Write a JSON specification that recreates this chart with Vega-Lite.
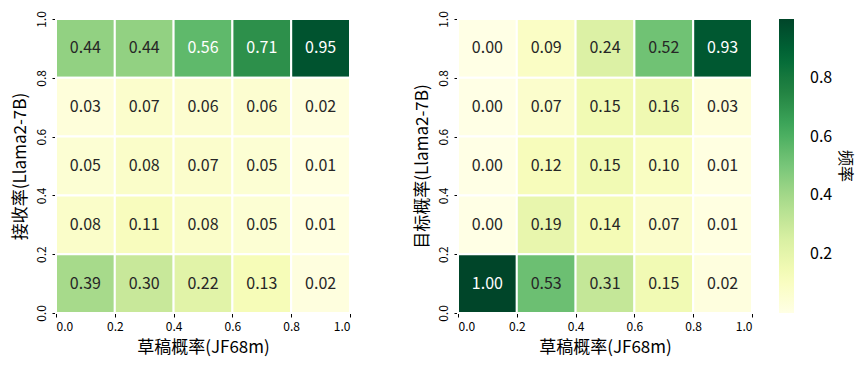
{
  "$schema": "https://vega.github.io/schema/vega-lite/v6.json",
  "autosize": {"type": "pad"},
  "padding": {"left": 10, "top": 10, "right": 5, "bottom": 5},
  "background": "white",
  "data": {"values": [
    {"p":"L","x0":0.0,"x1":0.2,"y0":0.8,"y1":1.0,"v":0.44},
    {"p":"L","x0":0.2,"x1":0.4,"y0":0.8,"y1":1.0,"v":0.44},
    {"p":"L","x0":0.4,"x1":0.6,"y0":0.8,"y1":1.0,"v":0.56},
    {"p":"L","x0":0.6,"x1":0.8,"y0":0.8,"y1":1.0,"v":0.71},
    {"p":"L","x0":0.8,"x1":1.0,"y0":0.8,"y1":1.0,"v":0.95},
    {"p":"L","x0":0.0,"x1":0.2,"y0":0.6,"y1":0.8,"v":0.03},
    {"p":"L","x0":0.2,"x1":0.4,"y0":0.6,"y1":0.8,"v":0.07},
    {"p":"L","x0":0.4,"x1":0.6,"y0":0.6,"y1":0.8,"v":0.06},
    {"p":"L","x0":0.6,"x1":0.8,"y0":0.6,"y1":0.8,"v":0.06},
    {"p":"L","x0":0.8,"x1":1.0,"y0":0.6,"y1":0.8,"v":0.02},
    {"p":"L","x0":0.0,"x1":0.2,"y0":0.4,"y1":0.6,"v":0.05},
    {"p":"L","x0":0.2,"x1":0.4,"y0":0.4,"y1":0.6,"v":0.08},
    {"p":"L","x0":0.4,"x1":0.6,"y0":0.4,"y1":0.6,"v":0.07},
    {"p":"L","x0":0.6,"x1":0.8,"y0":0.4,"y1":0.6,"v":0.05},
    {"p":"L","x0":0.8,"x1":1.0,"y0":0.4,"y1":0.6,"v":0.01},
    {"p":"L","x0":0.0,"x1":0.2,"y0":0.2,"y1":0.4,"v":0.08},
    {"p":"L","x0":0.2,"x1":0.4,"y0":0.2,"y1":0.4,"v":0.11},
    {"p":"L","x0":0.4,"x1":0.6,"y0":0.2,"y1":0.4,"v":0.08},
    {"p":"L","x0":0.6,"x1":0.8,"y0":0.2,"y1":0.4,"v":0.05},
    {"p":"L","x0":0.8,"x1":1.0,"y0":0.2,"y1":0.4,"v":0.01},
    {"p":"L","x0":0.0,"x1":0.2,"y0":0.0,"y1":0.2,"v":0.39},
    {"p":"L","x0":0.2,"x1":0.4,"y0":0.0,"y1":0.2,"v":0.30},
    {"p":"L","x0":0.4,"x1":0.6,"y0":0.0,"y1":0.2,"v":0.22},
    {"p":"L","x0":0.6,"x1":0.8,"y0":0.0,"y1":0.2,"v":0.13},
    {"p":"L","x0":0.8,"x1":1.0,"y0":0.0,"y1":0.2,"v":0.02},
    {"p":"R","x0":0.0,"x1":0.2,"y0":0.8,"y1":1.0,"v":0.00},
    {"p":"R","x0":0.2,"x1":0.4,"y0":0.8,"y1":1.0,"v":0.09},
    {"p":"R","x0":0.4,"x1":0.6,"y0":0.8,"y1":1.0,"v":0.24},
    {"p":"R","x0":0.6,"x1":0.8,"y0":0.8,"y1":1.0,"v":0.52},
    {"p":"R","x0":0.8,"x1":1.0,"y0":0.8,"y1":1.0,"v":0.93},
    {"p":"R","x0":0.0,"x1":0.2,"y0":0.6,"y1":0.8,"v":0.00},
    {"p":"R","x0":0.2,"x1":0.4,"y0":0.6,"y1":0.8,"v":0.07},
    {"p":"R","x0":0.4,"x1":0.6,"y0":0.6,"y1":0.8,"v":0.15},
    {"p":"R","x0":0.6,"x1":0.8,"y0":0.6,"y1":0.8,"v":0.16},
    {"p":"R","x0":0.8,"x1":1.0,"y0":0.6,"y1":0.8,"v":0.03},
    {"p":"R","x0":0.0,"x1":0.2,"y0":0.4,"y1":0.6,"v":0.00},
    {"p":"R","x0":0.2,"x1":0.4,"y0":0.4,"y1":0.6,"v":0.12},
    {"p":"R","x0":0.4,"x1":0.6,"y0":0.4,"y1":0.6,"v":0.15},
    {"p":"R","x0":0.6,"x1":0.8,"y0":0.4,"y1":0.6,"v":0.10},
    {"p":"R","x0":0.8,"x1":1.0,"y0":0.4,"y1":0.6,"v":0.01},
    {"p":"R","x0":0.0,"x1":0.2,"y0":0.2,"y1":0.4,"v":0.00},
    {"p":"R","x0":0.2,"x1":0.4,"y0":0.2,"y1":0.4,"v":0.19},
    {"p":"R","x0":0.4,"x1":0.6,"y0":0.2,"y1":0.4,"v":0.14},
    {"p":"R","x0":0.6,"x1":0.8,"y0":0.2,"y1":0.4,"v":0.07},
    {"p":"R","x0":0.8,"x1":1.0,"y0":0.2,"y1":0.4,"v":0.01},
    {"p":"R","x0":0.0,"x1":0.2,"y0":0.0,"y1":0.2,"v":1.00},
    {"p":"R","x0":0.2,"x1":0.4,"y0":0.0,"y1":0.2,"v":0.53},
    {"p":"R","x0":0.4,"x1":0.6,"y0":0.0,"y1":0.2,"v":0.31},
    {"p":"R","x0":0.6,"x1":0.8,"y0":0.0,"y1":0.2,"v":0.15},
    {"p":"R","x0":0.8,"x1":1.0,"y0":0.0,"y1":0.2,"v":0.02}
  ]},
  "transform": [
    {"calculate": "(datum.x0 + datum.x1) / 2", "as": "xc"},
    {"calculate": "(datum.y0 + datum.y1) / 2", "as": "yc"}
  ],
  "spacing": 61,
  "resolve": {"scale": {"color": "shared"}},
  "hconcat": [
    {
      "width": 294, "height": 294,
      "transform": [{"filter": "datum.p === 'L'"}],
      "layer": [
        {
          "mark": {"type": "rect", "stroke": "white", "strokeWidth": 2},
          "encoding": {
            "x": {"field": "x0", "type": "quantitative", "scale": {"domain": [0, 1], "nice": false}, "axis": {"title": "草稿概率(JF68m)", "values": [0, 0.2, 0.4, 0.6, 0.8, 1.0], "format": ".1f", "titlePadding": 7}},
            "x2": {"field": "x1"},
            "y": {"field": "y0", "type": "quantitative", "scale": {"domain": [0, 1], "nice": false}, "axis": {"title": "接收率(Llama2-7B)", "values": [0, 0.2, 0.4, 0.6, 0.8, 1.0], "format": ".1f", "labelAngle": -90}},
            "y2": {"field": "y1"},
            "color": {"field": "v", "type": "quantitative", "scale": {"domain": [0, 1], "range": ["#ffffe5", "#f7fcb9", "#d9f0a3", "#addd8e", "#78c679", "#41ab5d", "#238443", "#006837", "#004529"]}, "legend": {"title": "频率", "values": [0.2, 0.4, 0.6, 0.8], "labelOffset": 16, "titlePadding": 21}}
          }
        },
        {
          "mark": {"type": "text", "fontSize": 16, "font": "Noto Sans CJK SC"},
          "encoding": {
            "x": {"field": "xc", "type": "quantitative"},
            "y": {"field": "yc", "type": "quantitative"},
            "text": {"field": "v", "type": "quantitative", "format": ".2f"},
            "color": {"condition": {"test": "datum.v > 0.54", "value": "white"}, "value": "#262626"}
          }
        }
      ]
    },
    {
      "width": 294, "height": 294,
      "transform": [{"filter": "datum.p === 'R'"}],
      "layer": [
        {
          "mark": {"type": "rect", "stroke": "white", "strokeWidth": 2},
          "encoding": {
            "x": {"field": "x0", "type": "quantitative", "scale": {"domain": [0, 1], "nice": false}, "axis": {"title": "草稿概率(JF68m)", "values": [0, 0.2, 0.4, 0.6, 0.8, 1.0], "format": ".1f", "titlePadding": 7}},
            "x2": {"field": "x1"},
            "y": {"field": "y0", "type": "quantitative", "scale": {"domain": [0, 1], "nice": false}, "axis": {"title": "目标概率(Llama2-7B)", "values": [0, 0.2, 0.4, 0.6, 0.8, 1.0], "format": ".1f", "labelAngle": -90}},
            "y2": {"field": "y1"},
            "color": {"field": "v", "type": "quantitative", "scale": {"domain": [0, 1], "range": ["#ffffe5", "#f7fcb9", "#d9f0a3", "#addd8e", "#78c679", "#41ab5d", "#238443", "#006837", "#004529"]}, "legend": {"title": "频率", "values": [0.2, 0.4, 0.6, 0.8], "labelOffset": 16, "titlePadding": 21}}
          }
        },
        {
          "mark": {"type": "text", "fontSize": 16, "font": "Noto Sans CJK SC"},
          "encoding": {
            "x": {"field": "xc", "type": "quantitative"},
            "y": {"field": "yc", "type": "quantitative"},
            "text": {"field": "v", "type": "quantitative", "format": ".2f"},
            "color": {"condition": {"test": "datum.v > 0.54", "value": "white"}, "value": "#262626"}
          }
        }
      ]
    }
  ],
  "config": {
    "view": {"stroke": null},
    "font": "Noto Sans CJK SC",
    "axis": {
      "grid": false, "domain": false, "ticks": true, "tickColor": "#000000", "tickSize": 4,
      "labelFont": "Noto Sans CJK SC", "labelFontSize": 12, "labelColor": "#000000", "labelPadding": 4,
      "titleFont": "Noto Sans CJK SC", "titleFontSize": 17, "titleFontWeight": "normal", "titleColor": "#000000", "titlePadding": 6
    },
    "legend": {
      "orient": "right", "offset": 26,
      "gradientLength": 294, "gradientThickness": 15,
      "labelFont": "Noto Sans CJK SC", "labelFontSize": 16, "labelColor": "#000000",
      "titleFont": "Noto Sans CJK SC", "titleFontSize": 16, "titleFontWeight": "normal", "titleColor": "#000000",
      "titleOrient": "right", "titleAngle": 90, "titleAnchor": "middle", "titleBaseline": "top"
    }
  }
}
